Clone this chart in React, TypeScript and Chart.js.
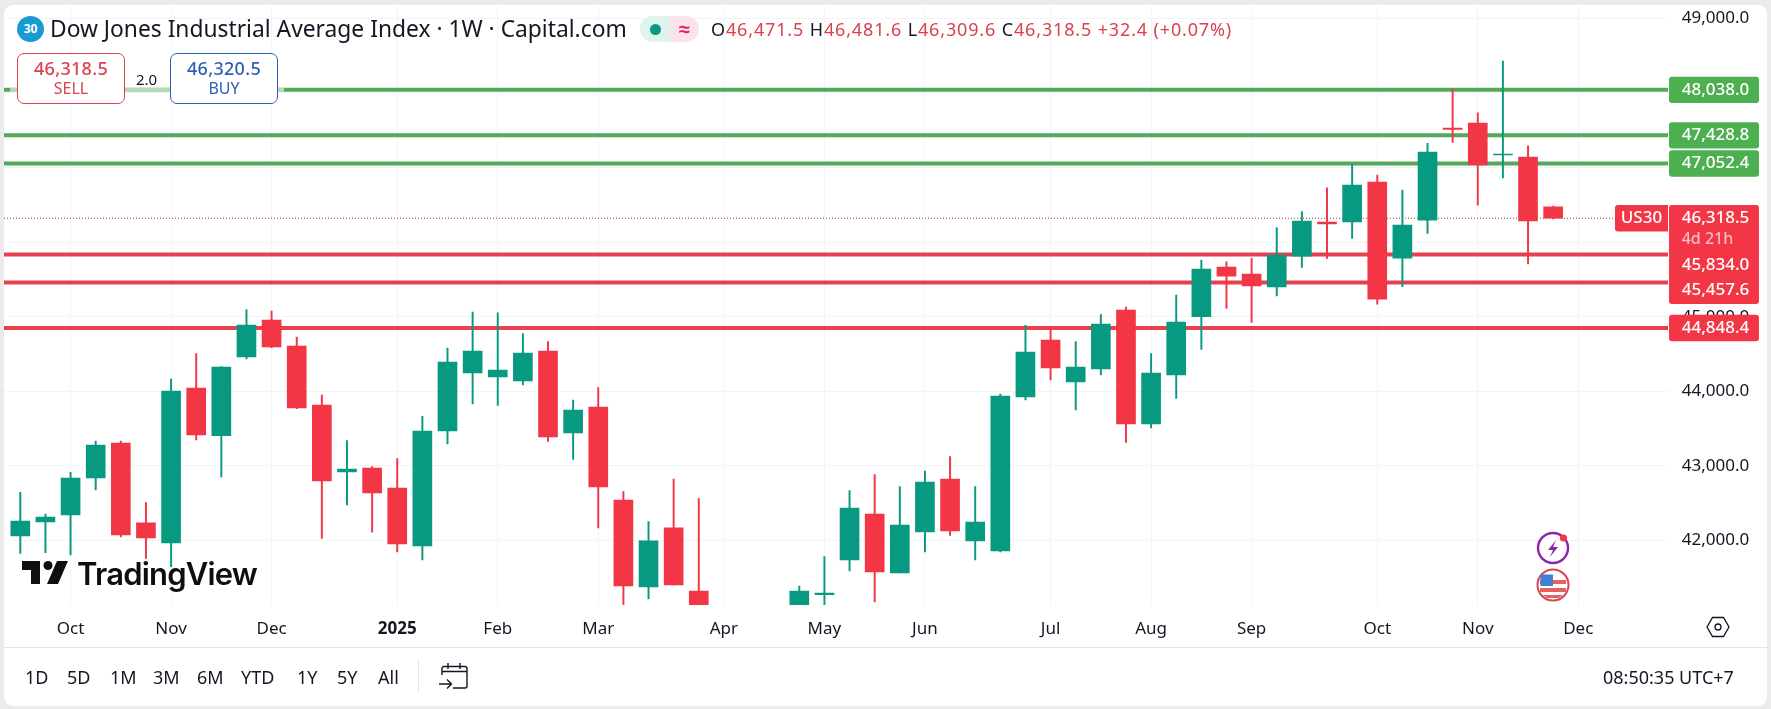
import { useEffect, useRef } from "react";
import { Chart, registerables } from "chart.js";

Chart.register(...registerables);

// weekly candles, null = falls below the visible range in the picture
const opens = [42062, 42250, 42344, 42839, 43308, 42237, 41969, 44045, 43406, 44460, 44955, 44607, 43817, 42920, 42973, 42705, 41929, 43469, 44245, 44192, 44138, 44540, 43442, 43790, 42545, 41380, 42170, 41326, null, null, null, 41000, 41277, 41741, 42357, 41567, 42116, 42826, 41996, 41862, 43924, 44687, 44125, 44299, 45089, 43562, 44219, 45000, 45665, 45571, 45397, 45812, 46268, 46268, 46803, 45785, 46294, 47526, 47593, 47165, 47138, 46471.5];
const closes = [42263, 42317, 42839, 43281, 42076, 42036, 44004, 43415, 44326, 44888, 44594, 43777, 42799, 42960, 42638, 41955, 43469, 44393, 44540, 44286, 44513, 43388, 43750, 42719, 41393, 41996, 41406, 41000, null, null, null, 41326, 41299, 42437, 41580, 42210, 42786, 42129, 42250, 43937, 44527, 44312, 44326, 44902, 43562, 44245, 44928, 45638, 45544, 45411, 45826, 46281, 46241, 46763, 45236, 46227, 47205, 47509, 47031, 47178, 46281, 46318.5];
const highs = [42647, 42357, 42915, 43335, 43335, 42509, 44165, 44504, 44330, 45094, 45076, 44727, 43951, 43339, 42991, 43098, 43665, 44580, 45062, 45053, 44772, 44665, 43884, 44049, 42656, 42254, 42826, 42562, null, null, null, 41393, 41786, 42670, 42884, 42723, 42933, 43125, 42723, 43964, 44884, 44844, 44665, 45027, 45129, 44504, 45290, 45759, 45736, 45781, 46192, 46406, 46727, 47044, 46897, 46696, 47321, 48044, 47732, 48424, 47290, 46481.6];
const lows = [41830, 41839, 41808, 42679, 42049, 41763, 41652, 43348, 42853, 44433, 44585, 43768, 42031, 42478, 42112, 41848, 41741, 43295, 43830, 43812, 44085, 43330, 43089, 42170, 41100, 41219, 41406, 41000, null, null, null, 41000, 41100, 41594, 41179, 41567, 41848, 42071, 41741, 41848, 43884, 44152, 43750, 44219, 43317, 43509, 43906, 44562, 45111, 44924, 45277, 45660, 45781, 46049, 45169, 45402, 46116, 47334, 46495, 46857, 45705, 46309.6];

const priceTicks = [42000, 43000, 44000, 45000, 46000, 47000, 48000, 49000];
const monthIndex = [2, 6, 10, 15, 19, 23, 28, 32, 36, 41, 45, 49, 54, 58, 62];
const monthNames = ["Oct", "Nov", "Dec", "2025", "Feb", "Mar", "Apr", "May", "Jun", "Jul", "Aug", "Sep", "Oct", "Nov", "Dec"];

const resistance = [48038.0, 47428.8, 47052.4];
const support = [45834.0, 45457.6, 44848.4];
const lastPrice = 46318.5;

const timeRanges = ["1D", "5D", "1M", "3M", "6M", "YTD", "1Y", "5Y", "All"];
const rangeLeft = [25, 67, 110, 153, 197, 241, 297, 337, 378];

const UP = "#089981";
const DOWN = "#f23645";
const GREEN_LINE = "#55a75b";
const RED_LINE = "#e8404f";
const INK = "#131722";
const FONT = '"Noto Sans", sans-serif';

const X_MIN = -0.649;
const X_MAX = 65.57;

const money = (v: number) =>
  v.toLocaleString("en-US", { minimumFractionDigits: 1, maximumFractionDigits: 1 });

// price tags on the right axis, placed from the y scale
const priceTags = {
  id: "priceTags",
  afterDraw(chart: Chart) {
    const { ctx, scales } = chart;
    const y = scales.y;
    const tag = (top: number, h: number, color: string) => {
      ctx.fillStyle = color;
      ctx.beginPath();
      ctx.roundRect(1669, top, 90, h, 3);
      ctx.fill();
    };
    const label = (text: string, cy: number, color = "#fff", size = 17) => {
      ctx.fillStyle = color;
      ctx.font = `500 ${size}px ${FONT}`;
      ctx.textAlign = "left";
      ctx.textBaseline = "middle";
      ctx.fillText(text, 1681.7, cy);
    };
    ctx.save();
    resistance.forEach((v) => {
      const py = y.getPixelForValue(v);
      tag(py - 13.2, 26.4, "#4caf50");
      label(money(v), py);
    });
    const last = y.getPixelForValue(lastPrice);
    const s0 = y.getPixelForValue(support[0]);
    const s1 = y.getPixelForValue(support[1]);
    const s2 = y.getPixelForValue(support[2]);
    // the last price and the two levels under it merge into one block
    tag(last - 13.2, s1 + 21.5 - last + 13.2, DOWN);
    label(money(lastPrice), last);
    label("4d 21h", last + 21, "#f9bcc2", 16);
    label(money(support[0]), s0 + 10.8);
    label(money(support[1]), s1 + 7.8);
    tag(s2 - 13.2, 26.4, DOWN);
    label(money(support[2]), s2);
    // symbol tag
    ctx.fillStyle = DOWN;
    ctx.beginPath();
    ctx.roundRect(1615, last - 13.2, 53, 26.4, [3, 0, 0, 3]);
    ctx.fill();
    ctx.fillStyle = "#fff";
    ctx.font = `500 17px ${FONT}`;
    ctx.textAlign = "center";
    ctx.fillText("US30", 1641.5, last);
    ctx.restore();
  },
};

function Txt({ x, y, children, style }: { x: number; y: number; children: React.ReactNode; style?: React.CSSProperties }) {
  return (
    <span
      style={{
        position: "absolute",
        left: x,
        top: y,
        transform: "translateY(-50%)",
        whiteSpace: "nowrap",
        fontFamily: FONT,
        color: INK,
        lineHeight: 1,
        ...style,
      }}
    >
      {children}
    </span>
  );
}

function OrderBox({ x, color, price, side }: { x: number; color: string; price: string; side: string }) {
  return (
    <div
      style={{
        position: "absolute",
        left: x,
        top: 53,
        width: 108,
        height: 51,
        boxSizing: "border-box",
        border: `1px solid ${color}`,
        borderRadius: 7,
        background: "#fff",
        color,
        fontFamily: FONT,
        textAlign: "center",
      }}
    >
      <div style={{ fontSize: 18, fontWeight: 500, lineHeight: "20px", marginTop: 4, letterSpacing: 0.3 }}>{price}</div>
      <div style={{ fontSize: 16, lineHeight: "20px" }}>{side}</div>
    </div>
  );
}

export default function App() {
  const canvasRef = useRef<HTMLCanvasElement>(null);

  useEffect(() => {
    document.body.style.margin = "0";
    if (!canvasRef.current) return;

    const idx = opens.map((_, i) => i);
    const colors = idx.map((i) => ((closes[i] ?? 0) >= (opens[i] ?? 0) ? UP : DOWN));
    const level = (v: number) => [
      { x: X_MIN, y: v },
      { x: X_MAX, y: v },
    ];

    const chart = new Chart(canvasRef.current, {
      data: {
        datasets: [
          {
            type: "bar",
            data: idx.map((i) => ({ x: i, y: opens[i] === null ? null : [opens[i], closes[i]] })),
            backgroundColor: colors,
            barThickness: 19,
            grouped: false,
            order: 1,
          },
          {
            type: "bar",
            data: idx.map((i) => ({ x: i, y: lows[i] === null ? null : [lows[i], highs[i]] })),
            backgroundColor: colors,
            barThickness: 1.3,
            grouped: false,
            order: 2,
          },
          {
            type: "line",
            data: level(lastPrice),
            borderColor: "#b5303c",
            borderWidth: 1,
            borderDash: [1, 2],
            pointRadius: 0,
            order: 3,
          },
          ...resistance.map((v) => ({
            type: "line" as const,
            data: level(v),
            borderColor: GREEN_LINE,
            borderWidth: 4,
            pointRadius: 0,
            order: 4,
          })),
          ...support.map((v) => ({
            type: "line" as const,
            data: level(v),
            borderColor: RED_LINE,
            borderWidth: 4,
            pointRadius: 0,
            order: 4,
          })),
        ],
      } as any,
      options: {
        responsive: false,
        animation: false,
        layout: { padding: { left: 4, top: 5.5, right: 3, bottom: 0 } },
        plugins: { legend: { display: false }, tooltip: { enabled: false } },
        scales: {
          x: {
            type: "linear",
            offset: false,
            min: X_MIN,
            max: X_MAX,
            afterBuildTicks: (s: any) => {
              s.ticks = monthIndex.map((value) => ({ value }));
            },
            afterFit: (s: any) => {
              s.height = 104;
              s.paddingLeft = 0;
              s.paddingRight = 0;
            },
            border: { display: false },
            grid: { color: "#f3f4f6", drawTicks: false, offset: false },
            ticks: {
              autoSkip: false,
              maxRotation: 0,
              padding: 14,
              color: INK,
              callback: (v: any) => monthNames[monthIndex.indexOf(v)],
              font: (c: any) => ({
                family: FONT,
                size: 17,
                weight: c.tick && c.tick.value === 15 ? "bold" : "normal",
              }),
            },
          },
          y: {
            position: "right",
            min: 41138,
            max: 49168,
            afterBuildTicks: (s: any) => {
              s.ticks = priceTicks.map((value) => ({ value }));
            },
            afterFit: (s: any) => {
              s.width = 100;
              s.paddingTop = 0;
              s.paddingBottom = 0;
            },
            border: { display: false },
            grid: { color: "#f3f4f6", drawTicks: false },
            ticks: {
              padding: 13.7,
              color: INK,
              font: { family: FONT, size: 17 },
              callback: (v: any) => money(v),
            },
          },
        },
      },
      plugins: [priceTags],
    } as any);

    return () => chart.destroy();
  }, []);

  return (
    <div style={{ position: "relative", width: 1771, height: 709, background: "#ebebeb", overflow: "hidden" }}>
      <div style={{ position: "absolute", left: 4, top: 5, width: 1763, height: 701, background: "#fff", borderRadius: 9 }} />
      <canvas ref={canvasRef} width={1771} height={709} style={{ position: "absolute", left: 0, top: 0, width: 1771, height: 709 }} />

      {/* header */}
      <div style={{ position: "absolute", left: 17, top: 16, width: 27, height: 26, borderRadius: "50%", background: "#189ad3", color: "#fff", fontFamily: FONT, fontSize: 12, fontWeight: 700, textAlign: "center", lineHeight: "26px" }}>30</div>
      <Txt x={50} y={29} style={{ fontSize: 22.8 }}>Dow Jones Industrial Average Index · 1W · Capital.com</Txt>
      <div style={{ position: "absolute", left: 640, top: 16, width: 30, height: 26, background: "#dff3ef", borderRadius: "13px 0 0 13px" }}>
        <div style={{ position: "absolute", left: 10, top: 8, width: 11, height: 11, borderRadius: "50%", background: UP }} />
      </div>
      <div style={{ position: "absolute", left: 670, top: 16, width: 29, height: 26, background: "#fce3ea", borderRadius: "0 13px 13px 0", color: "#e91e63", fontFamily: FONT, fontSize: 20, fontWeight: 700, textAlign: "center", lineHeight: "26px" }}>≈</div>
      <Txt x={711} y={29} style={{ fontSize: 18, color: "#d9424f", letterSpacing: 0.85 }}>
        <span style={{ color: INK }}>O</span>46,471.5 <span style={{ color: INK }}>H</span>46,481.6 <span style={{ color: INK }}>L</span>46,309.6 <span style={{ color: INK }}>C</span>46,318.5 +32.4 (+0.07%)
      </Txt>

      {/* faded parts of the top level line around the order buttons */}
      <div style={{ position: "absolute", left: 10, top: 88, width: 7, height: 4, background: "#b4dab6" }} />
      <div style={{ position: "absolute", left: 124, top: 88, width: 47, height: 4, background: "#b4dab6" }} />
      <div style={{ position: "absolute", left: 277, top: 88, width: 7, height: 4, background: "#b4dab6" }} />
      <OrderBox x={17} color="#d9424f" price="46,318.5" side="SELL" />
      <OrderBox x={170} color="#2f5fb3" price="46,320.5" side="BUY" />
      <Txt x={136} y={79} style={{ fontSize: 15 }}>2.0</Txt>

      {/* watermark */}
      <svg width="46" height="23" viewBox="0 0 46 23" style={{ position: "absolute", left: 22, top: 561 }}>
        <path d="M0 0H18V23H9V9H0Z" fill="#0f0f0f" />
        <circle cx="26" cy="4.5" r="4.5" fill="#0f0f0f" />
        <path d="M35 0H46L36 23H25Z" fill="#0f0f0f" />
      </svg>
      <Txt x={77} y={573} style={{ fontFamily: "Inter, sans-serif", fontSize: 31, fontWeight: 600, color: "#0f0f0f", letterSpacing: -0.8 }}>TradingView</Txt>

      {/* event markers */}
      <svg width="40" height="40" viewBox="0 0 40 40" style={{ position: "absolute", left: 1533, top: 528 }}>
        <circle cx="20" cy="20" r="15" fill="#fff" stroke="#8e24aa" strokeWidth="2.4" />
        <path d="M23 12 15 22h5l-3 7 8-10h-5z" fill="#8e24aa" />
        <circle cx="30.5" cy="10" r="3.6" fill="#f23645" />
      </svg>
      <svg width="40" height="40" viewBox="0 0 40 40" style={{ position: "absolute", left: 1533, top: 565 }}>
        <circle cx="20" cy="20" r="15.5" fill="#fff" stroke="#d9424f" strokeWidth="2" />
        <path d="M7 15H33V19H7ZM7 23H33V27H7ZM10 30H30L26 33H14Z" fill="#e4615f" />
        <path d="M7.5 9.5H20V21H7.5Z" fill="#3f7fd6" />
      </svg>

      {/* settings hexagon */}
      <svg width="24" height="22" viewBox="0 0 24 22" style={{ position: "absolute", left: 1706, top: 616 }}>
        <path d="M6.5 1.5H17.5L23 11 17.5 20.5H6.5L1 11Z" fill="none" stroke={INK} strokeWidth="1.3" />
        <circle cx="12" cy="11" r="3" fill="none" stroke={INK} strokeWidth="1.3" />
      </svg>

      {/* bottom toolbar */}
      <div style={{ position: "absolute", left: 4, top: 647, width: 1763, height: 1, background: "#e0e3eb" }} />
      {timeRanges.map((r, i) => (
        <Txt key={r} x={rangeLeft[i]} y={677} style={{ fontSize: 18 }}>{r}</Txt>
      ))}
      <div style={{ position: "absolute", left: 418, top: 660, width: 1, height: 33, background: "#e0e3eb" }} />
      <svg width="30" height="30" viewBox="0 0 30 30" style={{ position: "absolute", left: 438, top: 661 }}>
        <path d="M4 14V7.5a2 2 0 0 1 2-2H27a2 2 0 0 1 2 2V25a2 2 0 0 1-2 2H15M4 10.5H29M10 2V8M22 2V8M1 23H13M9 18.5 13.5 23 9 27.5" fill="none" stroke={INK} strokeWidth="1.4" />
      </svg>
      <Txt x={1603} y={677} style={{ fontSize: 18 }}>08:50:35 UTC+7</Txt>
    </div>
  );
}
